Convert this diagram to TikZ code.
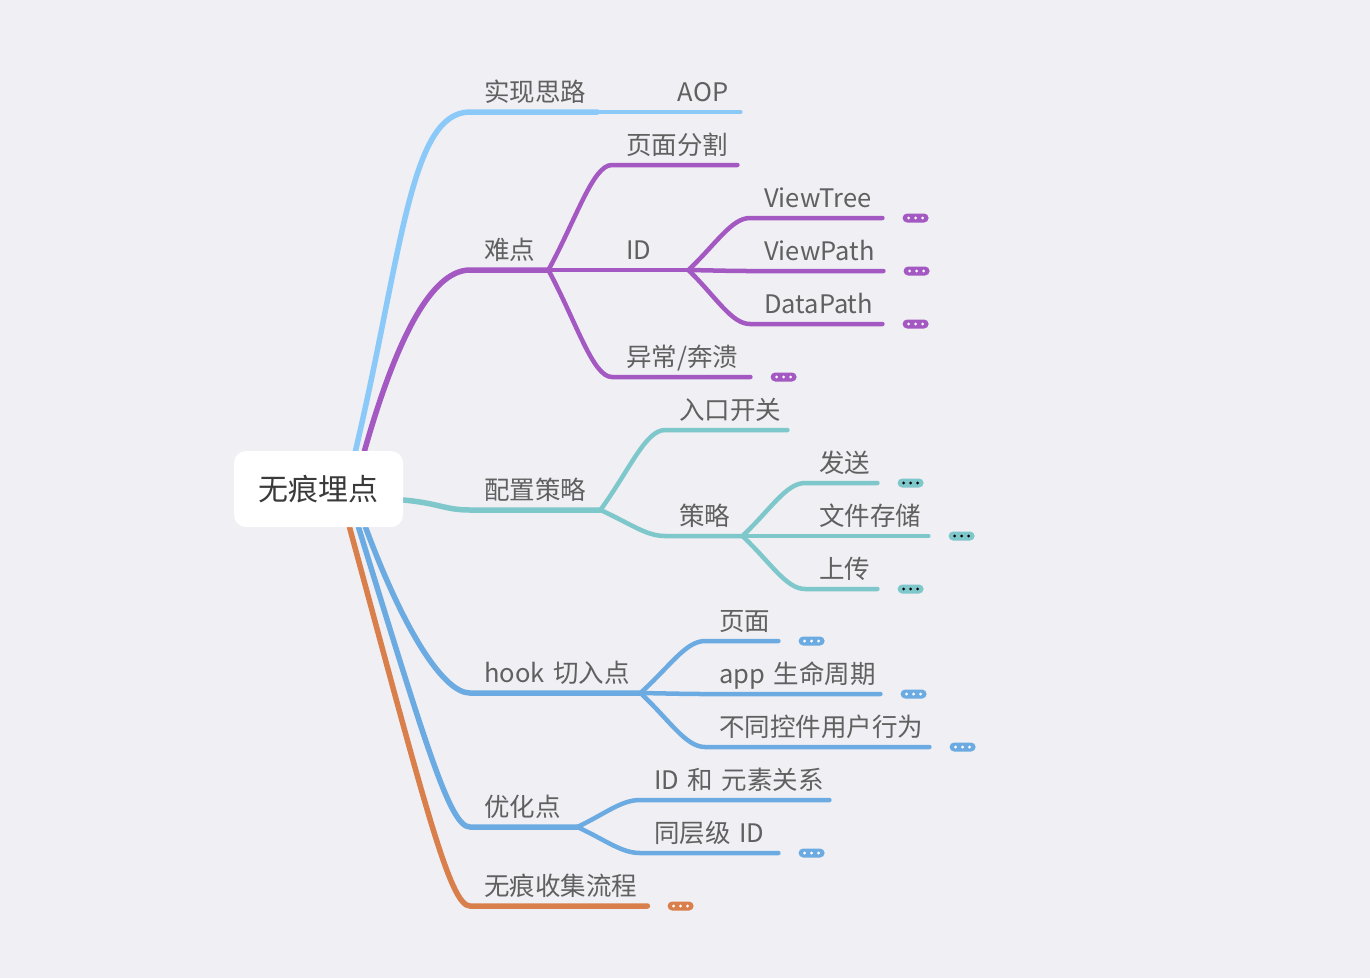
\documentclass[tikz,border=0pt]{standalone}
\usepackage{fontspec}
\setmainfont{Noto Sans CJK SC}
\usetikzlibrary{positioning,calc}
\definecolor{paper}{RGB}{239,239,244}
\definecolor{ink}{RGB}{96,96,96}
\definecolor{rootink}{RGB}{58,58,58}
\definecolor{csky}{RGB}{139,201,248}
\definecolor{cpurple}{RGB}{163,88,194}
\definecolor{cteal}{RGB}{126,199,203}
\definecolor{cblue}{RGB}{108,171,225}
\definecolor{corange}{RGB}{217,127,76}
\pgfdeclarelayer{bg}
\pgfsetlayers{bg,main}

\tikzset{
  topic/.style={anchor=south west,text width=#1,align=left,inner xsep=0pt,
    inner ysep=10pt,text height=18pt,text depth=0pt,text=ink,
    font=\fontsize{25.5}{28}\selectfont,
    execute at begin node={\hspace*{14pt}}},
  trunk/.style={line cap=round,line width=5.5pt,draw=#1},
  twig/.style={line cap=round,line width=4.5pt,draw=#1,
    to path={let \p1=(\tikztostart), \p2=(\tikztotarget) in
      .. controls (0.55*\x1+0.45*\x2,0.5*\y1+0.5*\y2) and (0.3*\x1+0.7*\x2,\y2)
      .. (\tikztotarget) \tikztonodes}},
  more/.style 2 args={fill=#1,rounded corners=4.5pt,minimum width=26pt,
    minimum height=9pt,inner sep=0pt,
    path picture={\foreach \d in {-7,0,7}
      \fill[#2] ([xshift=\d pt]path picture bounding box.center) circle (1.6pt);}}
}

\begin{document}
\begin{tikzpicture}[x=1pt,y=-1pt]
  \useasboundingbox (0,0) rectangle (1370,978);
  \begin{pgfonlayer}{bg}
    \fill[paper] (0,0) rectangle (1370,978);
  \end{pgfonlayer}

  \node[fill=white,rounded corners=12pt,minimum width=169pt,minimum height=76pt,
        text=rootink,font=\fontsize{30}{34}\selectfont] (root) at (318.5,489) {无痕埋点};

  % 实现思路
  \node[topic=127pt] (sx) at (470,112) {实现思路};
  \node[topic=143pt,align=right,execute at begin node={},
        execute at end node={\hspace*{12pt}}] (aop) at (597,112) {AOP};

  % 难点
  \node[topic=78pt]  (nd)    at (470,270) {难点};
  \node[topic=125pt] (ymfg)  at (612,165) {页面分割};
  \node[topic=76pt]  (id)    at (612,270) {ID};
  \node[topic=138pt] (yc)    at (612,377) {异常/奔溃};
  \node[topic=132pt] (vtree) at (750,218) {ViewTree};
  \node[topic=133pt] (vpath) at (750,271) {ViewPath};
  \node[topic=132pt] (dpath) at (750,324) {DataPath};

  % 配置策略
  \node[topic=130pt] (pz) at (470,510) {配置策略};
  \node[topic=122pt] (rk) at (665,430) {入口开关};
  \node[topic=77pt]  (cl) at (665,536) {策略};
  \node[topic=72pt]  (fs) at (805,483) {发送};
  \node[topic=123pt] (wj) at (805,536) {文件存储};
  \node[topic=72pt]  (sc) at (805,589) {上传};

  % hook
  \node[topic=170pt] (hk)  at (470,693) {hook 切入点};
  \node[topic=73pt]  (ym)  at (705,641) {页面};
  \node[topic=175pt] (app) at (705,694) {app 生命周期};
  \node[topic=224pt] (bt)  at (705,747) {不同控件用户行为};

  % 优化点
  \node[topic=107pt] (yh) at (470,827) {优化点};
  \node[topic=189pt] (gx) at (640,800) {ID 和 元素关系};
  \node[topic=138pt] (tc) at (640,853) {同层级 ID};

  \node[topic=177pt] (lc) at (470,906) {无痕收集流程};

  % collapsed markers
  \node[more={cpurple}{white}] (vtreemore) [right=20pt of vtree.south east] {};
  \node[more={cpurple}{white}] (vpathmore) [right=20pt of vpath.south east] {};
  \node[more={cpurple}{white}] (dpathmore) [right=20pt of dpath.south east] {};
  \node[more={cpurple}{white}] (ycmore)    [right=20pt of yc.south east] {};
  \node[more={cteal}{black}]   (fsmore)    [right=20pt of fs.south east] {};
  \node[more={cteal}{black}]   (wjmore)    [right=20pt of wj.south east] {};
  \node[more={cteal}{black}]   (scmore)    [right=20pt of sc.south east] {};
  \node[more={cblue}{white}]   (ymmore)    [right=20pt of ym.south east] {};
  \node[more={cblue}{white}]   (appmore)   [right=20pt of app.south east] {};
  \node[more={cblue}{white}]   (btmore)    [right=20pt of bt.south east] {};
  \node[more={cblue}{white}]   (tcmore)    [right=20pt of tc.south east] {};
  \node[more={corange}{white}] (lcmore)    [right=20pt of lc.south east] {};

  \begin{pgfonlayer}{bg}
    \draw[trunk=csky] ([xshift=37pt]root.north) .. controls +(47,-200) and +(-60,0)
      .. (sx.south west) -- (sx.south east);
    \draw[twig=csky] (aop.south west) -- (aop.south east);

    \draw[trunk=cpurple] ([xshift=46pt]root.north) .. controls +(30,-106) and +(-40,0)
      .. (nd.south west) -- (nd.south east);
    \draw[twig=cpurple] (nd.south east) to (ymfg.south west) -- (ymfg.south east);
    \draw[twig=cpurple] (nd.south east) to (id.south west) -- (id.south east);
    \draw[twig=cpurple] (nd.south east) to (yc.south west) -- (yc.south east);
    \draw[twig=cpurple] (id.south east) to (vtree.south west) -- (vtree.south east);
    \draw[twig=cpurple] (id.south east) to (vpath.south west) -- (vpath.south east);
    \draw[twig=cpurple] (id.south east) to (dpath.south west) -- (dpath.south east);

    \draw[trunk=cteal] ([yshift=-11pt]root.east) .. controls +(35,3) and +(-25,0)
      .. (pz.south west) -- (pz.south east);
    \draw[twig=cteal] (pz.south east) to (rk.south west) -- (rk.south east);
    \draw[twig=cteal] (pz.south east) to (cl.south west) -- (cl.south east);
    \draw[twig=cteal] (cl.south east) to (fs.south west) -- (fs.south east);
    \draw[twig=cteal] (cl.south east) to (wj.south west) -- (wj.south east);
    \draw[twig=cteal] (cl.south east) to (sc.south west) -- (sc.south east);

    \draw[trunk=cblue] ([xshift=47pt]root.south) .. controls +(41,110) and +(-25,0)
      .. (hk.south west) -- (hk.south east);
    \draw[twig=cblue] (hk.south east) to (ym.south west) -- (ym.south east);
    \draw[twig=cblue] (hk.south east) to (app.south west) -- (app.south east);
    \draw[twig=cblue] (hk.south east) to (bt.south west) -- (bt.south east);

    \draw[trunk=cblue] ([xshift=40pt]root.south) .. controls +(68,220) and +(-20,0)
      .. (yh.south west) -- (yh.south east);
    \draw[twig=cblue] (yh.south east) to (gx.south west) -- (gx.south east);
    \draw[twig=cblue] (yh.south east) to (tc.south west) -- (tc.south east);

    \draw[trunk=corange] ([xshift=31pt]root.south) .. controls +(76,280) and +(-20,0)
      .. (lc.south west) -- (lc.south east);
  \end{pgfonlayer}
\end{tikzpicture}
\end{document}
